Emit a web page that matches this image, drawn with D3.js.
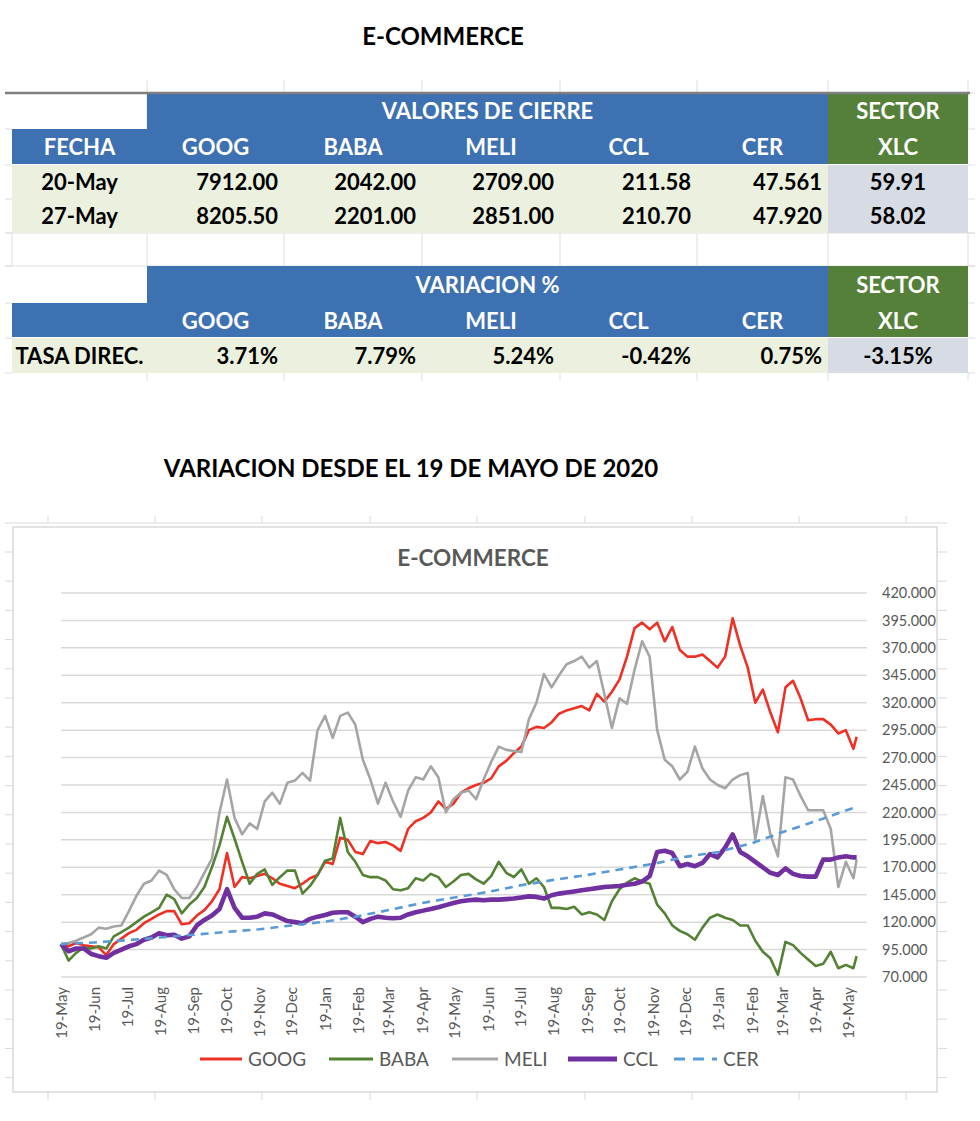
<!DOCTYPE html>
<html lang="es">
<head>
<meta charset="utf-8">
<title>E-COMMERCE</title>
<script src="https://cdn.jsdelivr.net/npm/d3@7"></script>
<style>
body { margin: 0; background: #fff; }
svg { display: block; font-family: Lato, "Open Sans", sans-serif; }
.tbl text { font-weight: bold; font-size: 22px; }
.axis text { fill: #595959; font-family: Lato, "Open Sans", sans-serif; }
</style>
</head>
<body>
<svg width="980" height="1121"></svg>
<script>

// tabla
var tickers = ['GOOG', 'BABA', 'MELI', 'CCL', 'CER'];
var fechas = ['20-May', '27-May'];
var cierre = [
  [7912.00, 2042.00, 2709.00, 211.58, 47.561],
  [8205.50, 2201.00, 2851.00, 210.70, 47.920]
];
var decimales = [2, 2, 2, 2, 3];
var xlcCierre = [59.91, 58.02];
var variacion = [3.71, 7.79, 5.24, -0.42, 0.75];
var xlcVariacion = -3.15;

// grafico (semanal desde el 19-May-2020, ultimo dato 27-May-2022)
var inicio = '2020-05-19';
var fin = '2022-05-27';
var goog = [100,98,101,99,98,97,90,100,105,110,113,119,123,127,130,130,118,119,126,131,
  139,150,183,152,161,160,162,164,160,155,153,151,155,160,163,175,173,197,195,184,
  182,194,192,193,190,185,205,212,215,220,230,223,228,238,242,245,247,251,262,267,
  274,280,295,298,297,302,310,313,315,317,313,328,321,330,341,362,388,393,387,393,
  376,389,368,362,362,364,358,352,362,397,372,352,320,332,311,293,334,340,324,304,
  305,305,300,292,295,278,289];
var baba = [100,85,92,97,96,98,96,107,111,115,120,125,129,133,145,141,128,136,142,152,
  170,190,216,196,175,155,164,168,154,161,167,167,146,153,163,176,178,215,184,175,
  163,161,161,158,150,149,151,160,158,164,161,152,157,163,164,159,155,162,175,165,
  161,168,155,160,152,133,133,132,134,127,129,127,122,139,150,156,160,157,155,136,
  128,117,112,109,104,115,124,127,124,122,117,117,103,93,87,72,102,99,92,86,
  80,82,93,78,81,78,89];
var meli = [100,101,103,106,109,115,114,116,117,130,144,155,158,167,163,150,142,142,152,165,
  178,220,250,215,200,210,205,230,238,228,247,249,256,249,295,308,288,308,311,300,
  268,250,228,247,230,216,240,252,250,262,252,220,232,238,240,232,250,266,280,277,
  276,275,305,320,346,334,345,355,358,362,352,358,328,297,324,319,350,376,362,295,
  268,262,250,257,280,260,250,245,242,250,254,256,195,235,200,180,252,250,235,222,
  222,222,205,152,175,160,177];
var ccl = [100,93.5,96,96,91,89,87.5,92,95,98,100,104,106,110,108,108.5,105,107,117,122,
  126,132,150,133,124,124,125,128,127,124,121,120,119,123,125,126.5,128.5,129,129,125,
  120,123,125,124,123.5,124,127,129,130.5,132,133.5,135.5,137.5,139,140,140.5,140,140.5,140.5,141,
  141.5,142.5,143.5,143,141.5,144.5,146,147,148,149,150,151,152,152.5,153,154,155,157,162,184,
  185,183,171,173,171,174,182,179,188,200,184,180,175,170,165,163,169,164,162,161.5,
  161.5,177,177,179,180,179,179];
var cerFechas = ['2020-05-19','2020-06-19','2020-07-19','2020-08-19','2020-09-19','2020-10-19',
  '2020-11-19','2020-12-19','2021-01-19','2021-02-19','2021-03-19','2021-04-19','2021-05-19',
  '2021-06-19','2021-07-19','2021-08-19','2021-09-19','2021-10-19','2021-11-19','2021-12-19',
  '2022-01-19','2022-02-19','2022-03-19','2022-04-19','2022-05-19','2022-05-27'];
var cer = [100,101.5,103.5,106,108.5,111,113.5,117,120.5,125.5,131,137.5,142.5,
  147.5,153.5,158.5,163,168,173,179.5,184,192,202,212,222.5,225];
var yTicks = [70,95,120,145,170,195,220,245,270,295,320,345,370,395,420];

var parse = d3.timeParse('%Y-%m-%d');
var start = parse(inicio);
var fechasSemana = goog.map((d, i) => i < goog.length - 1 ? d3.timeDay.offset(start, 7 * i) : parse(fin));

var series = [
  {name: 'GOOG', values: goog, dates: fechasSemana, color: '#ee3124', width: 2.6},
  {name: 'BABA', values: baba, dates: fechasSemana, color: '#548235', width: 2.6},
  {name: 'MELI', values: meli, dates: fechasSemana, color: '#a5a5a5', width: 2.6},
  {name: 'CCL', values: ccl, dates: fechasSemana, color: '#7030a0', width: 4.6},
  {name: 'CER', values: cer, dates: cerFechas.map(parse), color: '#5b9bd5', width: 2.6, dash: '8,6', legendDash: '11,8'}
];

var svg = d3.select('svg');
svg.append('rect').attr('width', 980).attr('height', 1121).attr('fill', '#fff');

// titulos
svg.append('text')
  .attr('x', 443).attr('y', 45)
  .attr('text-anchor', 'middle')
  .style('font-weight', 'bold').style('font-size', '24px')
  .text('E-COMMERCE');
svg.append('text')
  .attr('x', 411).attr('y', 477)
  .attr('text-anchor', 'middle')
  .style('font-weight', 'bold').style('font-size', '24px')
  .text('VARIACION DESDE EL 19 DE MAYO DE 2020');

// ---- tabla ----
var colX = [12, 147, 284, 422, 560, 697, 828, 968];
var blue = '#3e71b2', green = '#55803a', light = '#ebf1de', grayCell = '#d7dce4', grid = '#dedede';
var tbl = svg.append('g').attr('class', 'tbl');

function cell(x0, x1, y0, y1, fill) {
  tbl.append('rect').attr('x', x0).attr('y', y0).attr('width', x1 - x0).attr('height', y1 - y0).attr('fill', fill);
}
function label(txt, x, yc, anchor, color) {
  tbl.append('text').attr('x', x).attr('y', yc + 8)
    .attr('text-anchor', anchor).attr('fill', color).text(txt);
}
function mid(c) { return (colX[c] + colX[c + 1]) / 2; }

// lineas de la hoja
var sheetRows = [93, 129, 165, 199, 233, 266, 303, 338, 373];
sheetRows.forEach(r => {
  tbl.append('line').attr('x1', 5).attr('x2', 12).attr('y1', r).attr('y2', r).attr('stroke', grid);
  tbl.append('line').attr('x1', 968).attr('x2', 975).attr('y1', r).attr('y2', r).attr('stroke', grid);
});
colX.slice(1).forEach(c => {
  tbl.append('line').attr('x1', c).attr('x2', c).attr('y1', 80).attr('y2', 93).attr('stroke', grid);
  tbl.append('line').attr('x1', c).attr('x2', c).attr('y1', 233).attr('y2', 266).attr('stroke', grid);
  tbl.append('line').attr('x1', c).attr('x2', c).attr('y1', 373).attr('y2', 381).attr('stroke', grid);
  tbl.append('line').attr('x1', c).attr('x2', c).attr('y1', 93).attr('y2', 129).attr('stroke', grid);
});
tbl.append('line').attr('x1', 5).attr('x2', 975).attr('y1', 233).attr('y2', 233).attr('stroke', grid);
tbl.append('line').attr('x1', 5).attr('x2', 975).attr('y1', 266).attr('y2', 266).attr('stroke', grid);
tbl.append('line').attr('x1', 12).attr('x2', 12).attr('y1', 233).attr('y2', 266).attr('stroke', grid);

// bloque 1: valores de cierre
cell(147, 828, 93, 129, blue); cell(828, 968, 93, 129, green);
cell(12, 828, 129, 164, blue); cell(828, 968, 129, 164, green);
cell(12, 828, 165, 233, light); cell(828, 968, 165, 233, grayCell);
label('VALORES DE CIERRE', (colX[1] + colX[6]) / 2, 111, 'middle', '#fff');
label('SECTOR', mid(6), 111, 'middle', '#fff');
label('FECHA', mid(0), 147, 'middle', '#fff');
tickers.forEach((t, i) => label(t, mid(i + 1), 147, 'middle', '#fff'));
label('XLC', mid(6), 147, 'middle', '#fff');
fechas.forEach((f, r) => {
  var yc = 182 + r * 34;
  label(f, mid(0), yc, 'middle', '#000');
  cierre[r].forEach((v, i) => label(v.toFixed(decimales[i]), colX[i + 2] - 6, yc, 'end', '#000'));
  label(xlcCierre[r].toFixed(2), mid(6), yc, 'middle', '#000');
});

// bloque 2: variacion
cell(147, 828, 266, 303, blue); cell(828, 968, 266, 303, green);
cell(12, 828, 303, 337, blue); cell(828, 968, 303, 337, green);
cell(12, 828, 338, 373, light); cell(828, 968, 338, 373, grayCell);
label('VARIACION %', (colX[1] + colX[6]) / 2, 285, 'middle', '#fff');
label('SECTOR', mid(6), 285, 'middle', '#fff');
tickers.forEach((t, i) => label(t, mid(i + 1), 321, 'middle', '#fff'));
label('XLC', mid(6), 321, 'middle', '#fff');
label('TASA DIREC.', mid(0), 356, 'middle', '#000');
variacion.forEach((v, i) => label(v.toFixed(2) + '%', colX[i + 2] - 6, 356, 'end', '#000'));
label(xlcVariacion.toFixed(2) + '%', mid(6), 356, 'middle', '#000');

tbl.append('line').attr('x1', 5).attr('x2', 970).attr('y1', 93).attr('y2', 93)
  .attr('stroke', '#7f7f7f').attr('stroke-width', 2.5);

// ---- grafico ----
var chartGrid = '#d9d9d9';
var frame = svg.append('g');
frame.append('line').attr('x1', 5).attr('x2', 947).attr('y1', 523).attr('y2', 523).attr('stroke', chartGrid);
[48, 155, 262, 370, 477, 585, 692, 799, 906].forEach(c => {
  frame.append('line').attr('x1', c).attr('x2', c).attr('y1', 516).attr('y2', 523).attr('stroke', chartGrid);
  frame.append('line').attr('x1', c).attr('x2', c).attr('y1', 1092).attr('y2', 1100).attr('stroke', chartGrid);
});
d3.range(552, 1092, 29.2).forEach(r => {
  frame.append('line').attr('x1', 5).attr('x2', 13).attr('y1', r).attr('y2', r).attr('stroke', chartGrid);
  frame.append('line').attr('x1', 937).attr('x2', 947).attr('y1', r).attr('y2', r).attr('stroke', chartGrid);
});
frame.append('rect').attr('x', 13).attr('y', 527).attr('width', 924).attr('height', 565)
  .attr('fill', '#fff').attr('stroke', chartGrid).attr('stroke-width', 1.5);

svg.append('text')
  .attr('x', 473).attr('y', 566)
  .attr('text-anchor', 'middle').attr('fill', '#595959')
  .style('font-weight', 'bold').style('font-size', '22.5px')
  .text('E-COMMERCE');

var x = d3.scaleTime().domain([start, d3.timeMonth.offset(start, 24)]).range([61, 848]);
var y = d3.scaleLinear().domain([70, 420]).range([977, 593]);

svg.append('g').selectAll('line')
  .data(yTicks)
  .join('line')
  .attr('x1', 61).attr('x2', 867)
  .attr('y1', d => y(d)).attr('y2', d => y(d))
  .attr('stroke', chartGrid).attr('stroke-width', 1.5);

var yAxis = svg.append('g')
  .attr('class', 'axis')
  .attr('transform', 'translate(875,0)')
  .call(d3.axisRight(y).tickValues(yTicks).tickFormat(d3.format('.3f')).tickSize(0).tickPadding(7));
yAxis.select('.domain').remove();
yAxis.selectAll('text').style('font-size', '14.5px');

var meses = d3.range(25).map(i => d3.timeMonth.offset(start, i));
var xAxis = svg.append('g')
  .attr('class', 'axis')
  .attr('transform', 'translate(0,977)')
  .call(d3.axisBottom(x).tickValues(meses).tickFormat(d3.timeFormat('%d-%b')).tickSize(0));
xAxis.select('.domain').remove();
xAxis.selectAll('text')
  .style('font-size', '15px')
  .style('text-anchor', 'end')
  .attr('transform', 'rotate(-90)')
  .attr('x', -10).attr('y', 0).attr('dy', '0.35em');

var line = d3.line()
  .x(d => x(d[0]))
  .y(d => y(d[1]));

svg.append('g').selectAll('path')
  .data(series)
  .join('path')
  .attr('d', s => line(s.values.map((v, i) => [s.dates[i], v])))
  .attr('fill', 'none')
  .attr('stroke', s => s.color)
  .attr('stroke-width', s => s.width)
  .attr('stroke-dasharray', s => s.dash || null)
  .attr('stroke-linejoin', 'round');

// leyenda
var legendX = [200, 329, 452, 568, 674];
var legendW = [42, 44, 46, 49, 43];
var legend = svg.append('g').selectAll('g')
  .data(series)
  .join('g')
  .attr('transform', (s, i) => `translate(${legendX[i]},1059)`);
legend.append('line')
  .attr('x1', 0).attr('x2', (s, i) => legendW[i])
  .attr('stroke', s => s.color)
  .attr('stroke-width', s => s.width + 0.4)
  .attr('stroke-dasharray', s => s.legendDash || null);
legend.append('text')
  .attr('x', (s, i) => legendW[i] + 6).attr('y', 7)
  .attr('fill', '#595959')
  .style('font-size', '19px')
  .text(s => s.name);

</script>
</body>
</html>
